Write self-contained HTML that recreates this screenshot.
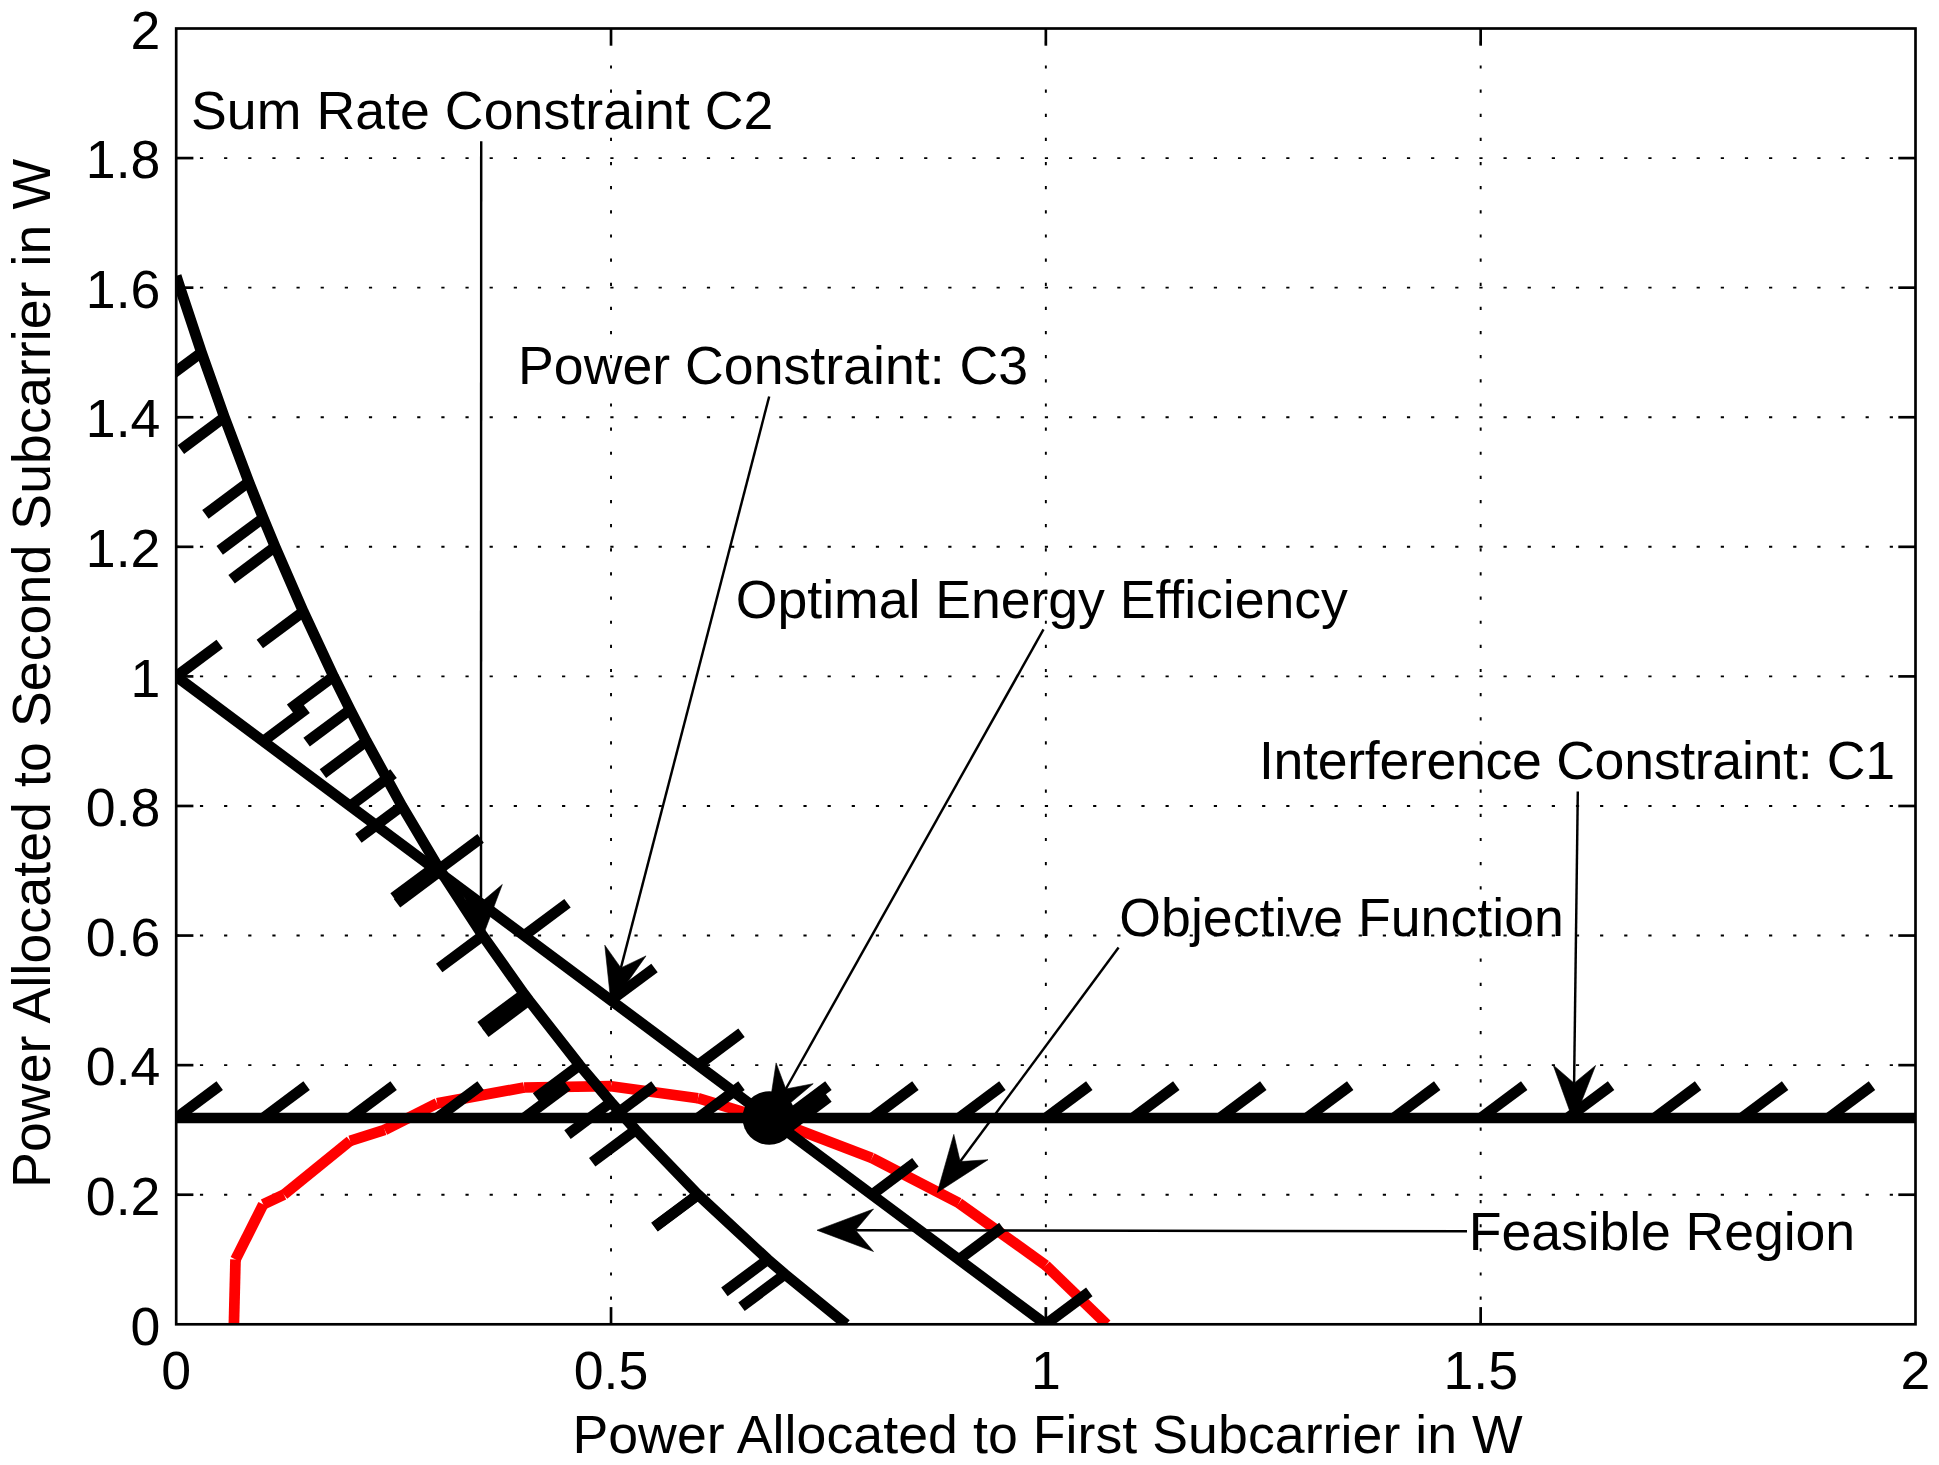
<!DOCTYPE html>
<html><head><meta charset="utf-8"><title>Power allocation feasible region</title>
<style>html,body{margin:0;padding:0;background:#fff}svg{display:block}</style></head>
<body>
<svg width="1939" height="1465" viewBox="0 0 1939 1465">
<rect width="1939" height="1465" fill="#fff"/>
<g stroke="#000" stroke-width="1.9" stroke-dasharray="3.2 20.94" stroke-dashoffset="0.4" fill="none">
<line x1="611.02" y1="1324.30" x2="611.02" y2="28.50" stroke-dashoffset="-0.4"/>
<line x1="1045.85" y1="1324.30" x2="1045.85" y2="28.50" stroke-dashoffset="-0.4"/>
<line x1="1480.67" y1="1324.30" x2="1480.67" y2="28.50" stroke-dashoffset="-0.4"/>
<line x1="176.20" y1="1194.72" x2="1915.50" y2="1194.72"/>
<line x1="176.20" y1="1065.14" x2="1915.50" y2="1065.14"/>
<line x1="176.20" y1="935.56" x2="1915.50" y2="935.56"/>
<line x1="176.20" y1="805.98" x2="1915.50" y2="805.98"/>
<line x1="176.20" y1="676.40" x2="1915.50" y2="676.40"/>
<line x1="176.20" y1="546.82" x2="1915.50" y2="546.82"/>
<line x1="176.20" y1="417.24" x2="1915.50" y2="417.24"/>
<line x1="176.20" y1="287.66" x2="1915.50" y2="287.66"/>
<line x1="176.20" y1="158.08" x2="1915.50" y2="158.08"/>
</g>
<clipPath id="cp"><rect x="175.20" y="28.50" width="1740.30" height="1295.80"/></clipPath>
<g clip-path="url(#cp)" fill="none">
<g stroke="#f00" stroke-width="10.73">
<line x1="233.9" y1="1324.3" x2="235.5" y2="1259.5"/>
<line x1="235.5" y1="1259.5" x2="263.2" y2="1204.4"/>
<line x1="263.2" y1="1204.4" x2="283.9" y2="1194.6"/>
<line x1="283.9" y1="1194.6" x2="350.1" y2="1140.9"/>
<line x1="350.1" y1="1140.9" x2="384.7" y2="1129.9"/>
<line x1="384.7" y1="1129.9" x2="437.1" y2="1103.4"/>
<line x1="437.1" y1="1103.4" x2="524.1" y2="1087.5"/>
<line x1="524.1" y1="1087.5" x2="611.0" y2="1086.2"/>
<line x1="611.0" y1="1086.2" x2="698.0" y2="1098.2"/>
<line x1="698.0" y1="1098.2" x2="785.0" y2="1124.7"/>
<line x1="785.0" y1="1124.7" x2="871.9" y2="1158.1"/>
<line x1="871.9" y1="1158.1" x2="958.9" y2="1203.1"/>
<line x1="958.9" y1="1203.1" x2="1045.8" y2="1265.3"/>
<line x1="1045.8" y1="1265.3" x2="1106.7" y2="1324.3"/>
</g>
<g stroke="#000" stroke-width="10.73">
<line x1="176.2" y1="1118.0" x2="1915.5" y2="1118.0"/>
<line x1="176.2" y1="676.4" x2="1045.8" y2="1324.3"/>
<polyline stroke-linejoin="round" points="176.2,275.8 180.0,287.7 201.5,352.5 224.4,417.2 248.8,482.0 263.2,518.0 275.1,546.8 303.3,611.6 333.6,676.4 350.1,709.7 366.4,741.2 401.9,806.0 437.1,865.2 440.5,870.8 482.7,935.6 524.1,994.0 528.8,1000.3 579.6,1065.1 611.0,1102.2 635.7,1129.9 698.0,1194.6 698.1,1194.7 767.8,1259.5 785.0,1274.3 846.3,1324.3"/>
<line x1="176.2" y1="1118.0" x2="219.7" y2="1085.6"/>
<line x1="263.2" y1="1118.0" x2="306.6" y2="1085.6"/>
<line x1="350.1" y1="1118.0" x2="393.6" y2="1085.6"/>
<line x1="437.1" y1="1118.0" x2="480.6" y2="1085.6"/>
<line x1="524.1" y1="1118.0" x2="567.5" y2="1085.6"/>
<line x1="611.0" y1="1118.0" x2="654.5" y2="1085.6"/>
<line x1="698.0" y1="1118.0" x2="741.5" y2="1085.6"/>
<line x1="785.0" y1="1118.0" x2="828.4" y2="1085.6"/>
<line x1="871.9" y1="1118.0" x2="915.4" y2="1085.6"/>
<line x1="958.9" y1="1118.0" x2="1002.4" y2="1085.6"/>
<line x1="1045.8" y1="1118.0" x2="1089.3" y2="1085.6"/>
<line x1="1132.8" y1="1118.0" x2="1176.3" y2="1085.6"/>
<line x1="1219.8" y1="1118.0" x2="1263.3" y2="1085.6"/>
<line x1="1306.7" y1="1118.0" x2="1350.2" y2="1085.6"/>
<line x1="1393.7" y1="1118.0" x2="1437.2" y2="1085.6"/>
<line x1="1480.7" y1="1118.0" x2="1524.2" y2="1085.6"/>
<line x1="1567.6" y1="1118.0" x2="1611.1" y2="1085.6"/>
<line x1="1654.6" y1="1118.0" x2="1698.1" y2="1085.6"/>
<line x1="1741.6" y1="1118.0" x2="1785.1" y2="1085.6"/>
<line x1="1828.5" y1="1118.0" x2="1872.0" y2="1085.6"/>
<line x1="176.2" y1="676.4" x2="219.7" y2="644.0"/>
<line x1="263.2" y1="741.2" x2="306.6" y2="708.8"/>
<line x1="350.1" y1="806.0" x2="393.6" y2="773.6"/>
<line x1="437.1" y1="870.8" x2="480.6" y2="838.4"/>
<line x1="524.1" y1="935.6" x2="567.5" y2="903.2"/>
<line x1="611.0" y1="1000.3" x2="654.5" y2="968.0"/>
<line x1="698.0" y1="1065.1" x2="741.5" y2="1032.7"/>
<line x1="785.0" y1="1129.9" x2="828.4" y2="1097.5"/>
<line x1="871.9" y1="1194.7" x2="915.4" y2="1162.3"/>
<line x1="958.9" y1="1259.5" x2="1002.4" y2="1227.1"/>
<line x1="1045.8" y1="1324.3" x2="1089.3" y2="1291.9"/>
<line x1="132.7" y1="308.2" x2="176.2" y2="275.8"/>
<line x1="136.5" y1="320.1" x2="180.0" y2="287.7"/>
<line x1="158.0" y1="384.8" x2="201.5" y2="352.5"/>
<line x1="180.9" y1="449.6" x2="224.4" y2="417.2"/>
<line x1="205.4" y1="514.4" x2="248.8" y2="482.0"/>
<line x1="219.7" y1="550.4" x2="263.2" y2="518.0"/>
<line x1="231.6" y1="579.2" x2="275.1" y2="546.8"/>
<line x1="259.8" y1="644.0" x2="303.3" y2="611.6"/>
<line x1="290.1" y1="708.8" x2="333.6" y2="676.4"/>
<line x1="306.6" y1="742.1" x2="350.1" y2="709.7"/>
<line x1="322.9" y1="773.6" x2="366.4" y2="741.2"/>
<line x1="358.4" y1="838.4" x2="401.9" y2="806.0"/>
<line x1="393.6" y1="897.6" x2="437.1" y2="865.2"/>
<line x1="397.0" y1="903.2" x2="440.5" y2="870.8"/>
<line x1="439.2" y1="968.0" x2="482.7" y2="935.6"/>
<line x1="480.6" y1="1026.3" x2="524.1" y2="994.0"/>
<line x1="485.3" y1="1032.7" x2="528.8" y2="1000.3"/>
<line x1="536.1" y1="1097.5" x2="579.6" y2="1065.1"/>
<line x1="567.5" y1="1134.6" x2="611.0" y2="1102.2"/>
<line x1="592.2" y1="1162.3" x2="635.7" y2="1129.9"/>
<line x1="654.5" y1="1227.0" x2="698.0" y2="1194.6"/>
<line x1="654.6" y1="1227.1" x2="698.1" y2="1194.7"/>
<line x1="724.4" y1="1291.9" x2="767.8" y2="1259.5"/>
<line x1="741.5" y1="1306.7" x2="785.0" y2="1274.3"/>
<line x1="802.8" y1="1356.7" x2="846.3" y2="1324.3"/>
</g>
</g>
<circle cx="769.3" cy="1118.0" r="26.8" fill="#000"/>
<g stroke="#000" stroke-width="2.68" fill="none">
<rect x="176.20" y="28.50" width="1739.30" height="1295.80"/>
<line x1="611.02" y1="1324.30" x2="611.02" y2="1307.10"/>
<line x1="611.02" y1="28.50" x2="611.02" y2="45.70"/>
<line x1="1045.85" y1="1324.30" x2="1045.85" y2="1307.10"/>
<line x1="1045.85" y1="28.50" x2="1045.85" y2="45.70"/>
<line x1="1480.67" y1="1324.30" x2="1480.67" y2="1307.10"/>
<line x1="1480.67" y1="28.50" x2="1480.67" y2="45.70"/>
<line x1="176.20" y1="1194.72" x2="193.40" y2="1194.72"/>
<line x1="1915.50" y1="1194.72" x2="1898.30" y2="1194.72"/>
<line x1="176.20" y1="1065.14" x2="193.40" y2="1065.14"/>
<line x1="1915.50" y1="1065.14" x2="1898.30" y2="1065.14"/>
<line x1="176.20" y1="935.56" x2="193.40" y2="935.56"/>
<line x1="1915.50" y1="935.56" x2="1898.30" y2="935.56"/>
<line x1="176.20" y1="805.98" x2="193.40" y2="805.98"/>
<line x1="1915.50" y1="805.98" x2="1898.30" y2="805.98"/>
<line x1="176.20" y1="676.40" x2="193.40" y2="676.40"/>
<line x1="1915.50" y1="676.40" x2="1898.30" y2="676.40"/>
<line x1="176.20" y1="546.82" x2="193.40" y2="546.82"/>
<line x1="1915.50" y1="546.82" x2="1898.30" y2="546.82"/>
<line x1="176.20" y1="417.24" x2="193.40" y2="417.24"/>
<line x1="1915.50" y1="417.24" x2="1898.30" y2="417.24"/>
<line x1="176.20" y1="287.66" x2="193.40" y2="287.66"/>
<line x1="1915.50" y1="287.66" x2="1898.30" y2="287.66"/>
<line x1="176.20" y1="158.08" x2="193.40" y2="158.08"/>
<line x1="1915.50" y1="158.08" x2="1898.30" y2="158.08"/>
</g>
<line x1="481.2" y1="141.3" x2="481.0" y2="902.5" stroke="#000" stroke-width="2.45"/>
<polygon points="481.0,941.0 459.8,884.5 481.0,902.5 502.3,884.5" fill="#000" stroke="#000" stroke-width="0.6" stroke-linejoin="miter" stroke-miterlimit="10"/>
<line x1="769.2" y1="396.5" x2="620.9" y2="967.9" stroke="#000" stroke-width="2.45"/>
<polygon points="611.2,1005.2 604.8,945.2 620.9,967.9 646.0,955.9" fill="#000" stroke="#000" stroke-width="0.6" stroke-linejoin="miter" stroke-miterlimit="10"/>
<line x1="1043.5" y1="629.4" x2="785.8" y2="1089.0" stroke="#000" stroke-width="2.45"/>
<polygon points="767.0,1122.6 776.1,1062.9 785.8,1089.0 813.2,1083.7" fill="#000" stroke="#000" stroke-width="0.6" stroke-linejoin="miter" stroke-miterlimit="10"/>
<line x1="1577.8" y1="791.4" x2="1574.1" y2="1083.2" stroke="#000" stroke-width="2.45"/>
<polygon points="1573.6,1121.7 1553.1,1064.9 1574.1,1083.2 1595.6,1065.5" fill="#000" stroke="#000" stroke-width="0.6" stroke-linejoin="miter" stroke-miterlimit="10"/>
<line x1="1118.6" y1="947.6" x2="960.2" y2="1161.6" stroke="#000" stroke-width="2.45"/>
<polygon points="937.3,1192.5 953.8,1134.4 960.2,1161.6 988.0,1159.7" fill="#000" stroke="#000" stroke-width="0.6" stroke-linejoin="miter" stroke-miterlimit="10"/>
<line x1="1467.0" y1="1231.2" x2="855.5" y2="1230.3" stroke="#000" stroke-width="2.45"/>
<polygon points="817.0,1230.2 873.5,1209.0 855.5,1230.3 873.5,1251.5" fill="#000" stroke="#000" stroke-width="0.6" stroke-linejoin="miter" stroke-miterlimit="10"/>
<g font-family="'Liberation Sans', Arial, Helvetica, sans-serif" font-size="53.64" fill="#000">
<text x="160.4" y="1344.5" text-anchor="end">0</text>
<text x="160.4" y="1214.9" text-anchor="end">0.2</text>
<text x="160.4" y="1085.3" text-anchor="end">0.4</text>
<text x="160.4" y="955.8" text-anchor="end">0.6</text>
<text x="160.4" y="826.2" text-anchor="end">0.8</text>
<text x="160.4" y="696.6" text-anchor="end">1</text>
<text x="160.4" y="567.0" text-anchor="end">1.2</text>
<text x="160.4" y="437.4" text-anchor="end">1.4</text>
<text x="160.4" y="307.9" text-anchor="end">1.6</text>
<text x="160.4" y="178.3" text-anchor="end">1.8</text>
<text x="160.4" y="48.7" text-anchor="end">2</text>
<text x="176.2" y="1388.8" text-anchor="middle">0</text>
<text x="611.0" y="1388.8" text-anchor="middle">0.5</text>
<text x="1045.8" y="1388.8" text-anchor="middle">1</text>
<text x="1480.7" y="1388.8" text-anchor="middle">1.5</text>
<text x="1915.5" y="1388.8" text-anchor="middle">2</text>
<text x="190.99" y="128.5" textLength="582.42" lengthAdjust="spacing">Sum Rate Constraint C2</text>
<text x="518.08" y="383.5" textLength="510.02" lengthAdjust="spacing">Power Constraint: C3</text>
<text x="735.81" y="618.2" textLength="612.04" lengthAdjust="spacing">Optimal Energy Efficiency</text>
<text x="1258.94" y="778.6" textLength="636.18" lengthAdjust="spacing">Interference Constraint: C1</text>
<text x="1119.31" y="936.3" textLength="444.52" lengthAdjust="spacing">Objective Function</text>
<text x="1468.78" y="1249.9" textLength="386.36" lengthAdjust="spacing">Feasible Region</text>
<text x="572.38" y="1452.7" textLength="950.35" lengthAdjust="spacing">Power Allocated to First Subcarrier in W</text>
<text transform="translate(49.8,1187.92) rotate(-90)" textLength="1029.00" lengthAdjust="spacing">Power Allocated to Second Subcarrier in W</text>
</g>
</svg>
</body></html>
